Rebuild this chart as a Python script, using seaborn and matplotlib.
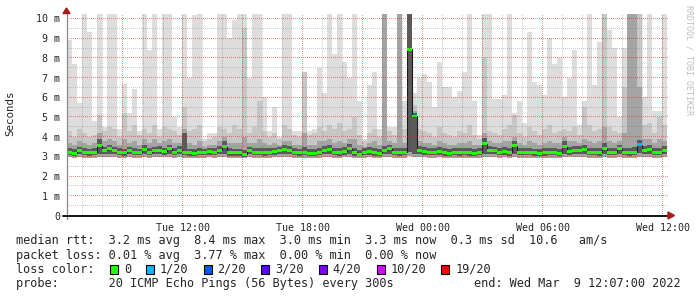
import numpy as np
import pandas as pd
import matplotlib
matplotlib.use("Agg")
import matplotlib.pyplot as plt
from matplotlib.patches import Rectangle, Polygon
from matplotlib.lines import Line2D
import seaborn as sns

# ---------------- data ----------------
start_hour = 6.2          # Tue 06:12, hours since Tue 00:00
step_hours = 0.25         # one sample every 15 min

ping_max = [8.9, 7.7, 5.7, 10.5, 9.3, 4.8, 10.5, 4.5, 10.5, 10.5,
            4.4, 6.7, 5.2, 6.4, 4.3, 10.5, 8.4, 10.5, 4.4, 10.5,
            10.5, 5.0, 4.5, 10.5, 7.0, 10.2, 10.5, 3.9, 4.2, 4.2,
            10.5, 10.5, 9.0, 9.9, 10.5, 10.5, 7.0, 10.5, 10.5, 6.0,
            4.3, 5.5, 4.0, 10.5, 10.5, 4.3, 4.3, 7.3, 4.3, 4.4,
            7.5, 6.2, 10.5, 8.2, 10.5, 7.8, 7.0, 10.5, 5.8, 3.9,
            6.6, 7.3, 4.4, 10.5, 4.5, 4.5, 10.5, 5.8, 10.5, 6.2,
            7.0, 7.2, 6.8, 5.5, 7.8, 6.5, 6.5, 6.0, 6.3, 7.3,
            10.5, 5.8, 4.1, 10.5, 10.5, 5.9, 5.9, 6.1, 10.5, 5.2,
            5.8, 4.7, 9.3, 6.8, 6.6, 6.1, 9.0, 7.7, 8.0, 6.0,
            7.0, 8.4, 4.6, 5.8, 10.5, 6.6, 8.8, 10.5, 9.4, 8.5,
            5.0, 8.5, 10.5, 10.5, 10.5, 6.0, 10.5, 5.3, 5.3, 10.5]

ping_p90 = [4.3, 4.0, 4.4, 4.2, 4.0, 4.1, 5.1, 4.3, 4.5, 4.4,
            4.0, 5.2, 4.3, 4.6, 4.1, 4.4, 4.2, 4.6, 4.0, 4.5,
            4.4, 4.3, 4.1, 5.5, 4.3, 4.4, 4.6, 3.8, 3.9, 4.0,
            4.5, 4.4, 4.2, 4.6, 4.4, 9.5, 4.2, 4.5, 5.8, 4.3,
            4.0, 4.2, 3.9, 4.6, 4.4, 4.1, 4.0, 7.3, 4.1, 4.2,
            4.5, 4.3, 4.6, 4.4, 4.7, 4.3, 4.4, 5.0, 4.1, 3.8,
            4.2, 4.4, 4.0, 10.5, 4.3, 4.1, 10.5, 4.4, 10.5, 5.6,
            4.4, 4.3, 4.2, 4.0, 4.5, 4.2, 4.1, 4.0, 4.3, 4.2,
            4.6, 4.1, 3.9, 8.0, 4.3, 4.2, 4.1, 4.4, 4.6, 5.1,
            4.2, 4.0, 4.5, 4.3, 4.1, 4.4, 4.6, 4.2, 4.3, 4.4,
            4.3, 4.5, 4.1, 5.5, 4.6, 4.3, 4.4, 10.5, 4.5, 4.3,
            4.2, 6.5, 10.5, 10.5, 10.5, 4.6, 4.7, 4.2, 5.0, 4.6]

ping_p75 = [3.7, 3.6, 3.8, 3.7, 3.6, 3.7, 4.2, 3.8, 3.9, 3.8,
            3.6, 3.9, 3.7, 3.8, 3.6, 3.9, 3.7, 3.9, 3.7, 3.8,
            3.9, 3.7, 3.7, 4.4, 3.7, 3.6, 3.8, 3.5, 3.6, 3.6,
            3.8, 4.0, 3.7, 3.7, 3.7, 4.0, 3.7, 3.7, 3.9, 3.7,
            3.6, 3.7, 3.6, 3.8, 3.8, 3.6, 3.6, 4.2, 3.6, 3.6,
            3.8, 3.8, 3.9, 3.7, 3.8, 3.7, 3.9, 3.9, 3.6, 3.5,
            3.7, 3.8, 3.6, 10.5, 3.8, 3.7, 10.5, 3.7, 10.5, 5.3,
            3.8, 3.7, 3.7, 3.6, 3.8, 3.7, 3.6, 3.6, 3.7, 3.7,
            3.8, 3.6, 3.6, 4.2, 3.8, 3.7, 3.7, 3.8, 3.8, 4.0,
            3.7, 3.6, 3.8, 3.7, 3.6, 3.7, 3.8, 3.7, 3.7, 4.0,
            3.8, 3.8, 3.7, 3.9, 3.8, 3.7, 3.8, 4.5, 3.8, 3.7,
            3.8, 4.2, 10.5, 10.5, 6.5, 3.9, 3.9, 3.7, 3.9, 3.8]

ping_p60 = [3.42, 3.38, 3.50, 3.45, 3.40, 3.45, 3.90, 3.50, 3.60, 3.50,
            3.42, 3.40, 3.50, 3.42, 3.40, 3.60, 3.45, 3.50, 3.52, 3.45,
            3.60, 3.42, 3.55, 4.20, 3.40, 3.38, 3.45, 3.40, 3.45, 3.42,
            3.52, 3.80, 3.42, 3.40, 3.40, 3.35, 3.50, 3.45, 3.45, 3.42,
            3.42, 3.45, 3.50, 3.58, 3.55, 3.42, 3.40, 3.48, 3.38, 3.38,
            3.45, 3.52, 3.58, 3.45, 3.42, 3.48, 3.62, 3.42, 3.35, 3.42,
            3.48, 3.42, 3.38, 3.55, 3.60, 3.45, 3.42, 3.45, 10.5, 5.20,
            3.55, 3.48, 3.45, 3.45, 3.48, 3.42, 3.38, 3.45, 3.42, 3.45,
            3.42, 3.38, 3.45, 3.95, 3.52, 3.50, 3.45, 3.48, 3.42, 3.80,
            3.45, 3.45, 3.45, 3.40, 3.38, 3.42, 3.45, 3.45, 3.38, 3.80,
            3.48, 3.52, 3.52, 3.58, 3.45, 3.45, 3.42, 3.70, 3.45, 3.45,
            3.60, 3.45, 3.45, 3.50, 3.85, 3.55, 3.58, 3.45, 3.45, 3.52]

median_rtt = [3.22, 3.15, 3.28, 3.22, 3.18, 3.22, 3.55, 3.30, 3.38, 3.28,
              3.22, 3.18, 3.28, 3.20, 3.22, 3.35, 3.22, 3.28, 3.30, 3.25,
              3.38, 3.22, 3.32, 3.22, 3.20, 3.15, 3.22, 3.22, 3.25, 3.22,
              3.30, 3.48, 3.20, 3.18, 3.18, 3.10, 3.28, 3.22, 3.22, 3.20,
              3.22, 3.25, 3.30, 3.35, 3.32, 3.22, 3.20, 3.22, 3.15, 3.15,
              3.22, 3.30, 3.35, 3.22, 3.20, 3.25, 3.40, 3.20, 3.12, 3.22,
              3.25, 3.20, 3.15, 3.30, 3.38, 3.22, 3.20, 3.22, 8.45, 5.05,
              3.30, 3.25, 3.22, 3.22, 3.25, 3.20, 3.15, 3.22, 3.20, 3.22,
              3.20, 3.15, 3.22, 3.65, 3.30, 3.28, 3.22, 3.25, 3.20, 3.55,
              3.22, 3.22, 3.22, 3.18, 3.15, 3.20, 3.22, 3.22, 3.15, 3.50,
              3.25, 3.30, 3.30, 3.35, 3.22, 3.22, 3.20, 3.40, 3.22, 3.22,
              3.38, 3.22, 3.20, 3.22, 3.58, 3.32, 3.35, 3.22, 3.22, 3.30]

ping_p10 = [3.08, 3.02, 3.10, 3.06, 3.04, 3.06, 3.12, 3.10, 3.12, 3.10,
            3.06, 3.04, 3.10, 3.06, 3.06, 3.12, 3.06, 3.10, 3.12, 3.08,
            3.14, 3.06, 3.12, 3.06, 3.04, 3.02, 3.06, 3.06, 3.08, 3.06,
            3.10, 3.14, 3.04, 3.04, 3.04, 2.98, 3.10, 3.06, 3.06, 3.04,
            3.06, 3.08, 3.12, 3.14, 3.12, 3.06, 3.04, 3.06, 3.02, 3.02,
            3.06, 3.10, 3.14, 3.06, 3.04, 3.08, 3.14, 3.04, 3.00, 3.06,
            3.08, 3.04, 3.02, 3.12, 3.14, 3.06, 3.04, 3.06, 3.20, 3.12,
            3.12, 3.08, 3.06, 3.06, 3.08, 3.04, 3.02, 3.06, 3.04, 3.06,
            3.04, 3.02, 3.06, 3.14, 3.12, 3.10, 3.06, 3.08, 3.04, 3.10,
            3.06, 3.06, 3.06, 3.04, 3.02, 3.04, 3.06, 3.06, 3.02, 3.12,
            3.08, 3.12, 3.12, 3.14, 3.06, 3.06, 3.04, 3.14, 3.06, 3.06,
            3.14, 3.06, 3.04, 3.06, 3.16, 3.12, 3.14, 3.06, 3.06, 3.10]

ping_min = [2.95, 2.92, 2.96, 2.94, 2.93, 2.94, 2.97, 2.95, 2.96, 2.95,
            2.94, 2.93, 2.95, 2.94, 2.94, 2.96, 2.94, 2.95, 2.96, 2.95,
            2.97, 2.94, 2.96, 2.94, 2.93, 2.92, 2.94, 2.94, 2.95, 2.94,
            2.95, 2.97, 2.93, 2.93, 2.93, 2.91, 2.95, 2.94, 2.94, 2.93,
            2.94, 2.95, 2.96, 2.97, 2.96, 2.94, 2.93, 2.94, 2.92, 2.92,
            2.94, 2.95, 2.97, 2.94, 2.93, 2.95, 2.97, 2.93, 2.91, 2.94,
            2.95, 2.93, 2.92, 2.96, 2.97, 2.94, 2.93, 2.94, 3.00, 2.96,
            2.96, 2.95, 2.94, 2.94, 2.95, 2.93, 2.92, 2.94, 2.93, 2.94,
            2.93, 2.92, 2.94, 2.97, 2.96, 2.95, 2.94, 2.95, 2.93, 2.95,
            2.94, 2.94, 2.94, 2.93, 2.92, 2.93, 2.94, 2.94, 2.92, 2.96,
            2.95, 2.96, 2.96, 2.97, 2.94, 2.94, 2.93, 2.97, 2.94, 2.94,
            2.97, 2.94, 2.93, 2.94, 2.98, 2.96, 2.97, 2.94, 2.94, 2.95]

# packets lost out of 20 per sample
loss_count = [0, 0, 0, 0, 0, 0, 0, 0, 0, 0,
              0, 0, 0, 0, 0, 0, 0, 0, 0, 0,
              0, 0, 0, 0, 0, 0, 0, 0, 0, 0,
              0, 0, 0, 0, 0, 0, 0, 0, 0, 0,
              0, 0, 0, 0, 0, 0, 0, 0, 0, 0,
              0, 0, 0, 0, 0, 0, 0, 0, 0, 0,
              0, 0, 0, 0, 0, 0, 0, 0, 0, 0,
              0, 0, 0, 0, 0, 0, 0, 0, 0, 0,
              0, 0, 0, 0, 0, 0, 0, 0, 0, 0,
              0, 0, 0, 0, 0, 0, 0, 0, 0, 0,
              0, 0, 0, 0, 0, 0, 0, 0, 0, 0,
              0, 0, 0, 0, 1, 0, 0, 0, 0, 0]

x_tick_hours = [12, 18, 24, 30, 36]
x_tick_labels = ["Tue 12:00", "Tue 18:00", "Wed 00:00", "Wed 06:00", "Wed 12:00"]
y_tick_values = [0, 1, 2, 3, 4, 5, 6, 7, 8, 9, 10]
y_tick_labels = ["0", "1 m", "2 m", "3 m", "4 m", "5 m", "6 m", "7 m", "8 m", "9 m", "10 m"]

loss_levels = [0, 1, 2, 3, 4, 10, 19]
loss_labels = ["0", "1/20", "2/20", "3/20", "4/20", "10/20", "19/20"]
loss_colors = ["#26ff00", "#00b8ff", "#0059ff", "#5e00ff", "#7e00ff", "#dd00ff", "#ff0000"]

legend_line1 = "median rtt:  3.2 ms avg  8.4 ms max  3.0 ms min  3.3 ms now  0.3 ms sd  10.6   am/s"
legend_line2 = "packet loss: 0.01 % avg  3.77 % max  0.00 % min  0.00 % now"
legend_line3 = "loss color:"
legend_line4 = "probe:       20 ICMP Echo Pings (56 Bytes) every 300s"
legend_end = "end: Wed Mar  9 12:07:00 2022"
watermark = "RRDTOOL / TOBI OETIKER"

# ---------------- figure ----------------
W, H = 697, 297
PX_PER_MS = 19.7
sns.set_style("white")
plt.rcParams["font.family"] = ["DejaVu Sans Mono", "DejaVu Sans"]

fig = plt.figure(figsize=(W / 100, H / 100), dpi=100, facecolor="white")

def fx(x):
    return x / W

def fy(y):
    return 1 - y / H

ax_left, ax_right, ax_top, ax_bottom = 67, 667, 14, 215.5
ax = fig.add_axes([fx(ax_left), fy(ax_bottom), (ax_right - ax_left) / W, (ax_bottom - ax_top) / H])
ax.set_facecolor("white")

n = len(median_rtt)
df = pd.DataFrame({
    "start": start_hour + step_hours * np.arange(n),
    "mid": start_hour + step_hours * (np.arange(n) + 0.5),
    "max": ping_max, "p90": ping_p90, "p75": ping_p75, "p60": ping_p60,
    "median": median_rtt, "p10": ping_p10, "min": ping_min, "loss": loss_count,
})
edges = np.append(df["start"].values, df["start"].values[-1] + step_hours)

def ext(col):
    v = df[col].values
    return np.append(v, v[-1])

# smoke layers
ax.fill_between(edges, ext("min"), ext("max"), step="post", color="#dddddd", lw=0, zorder=1)
ax.fill_between(edges, ext("min"), ext("p90"), step="post", color="#c6c6c6", lw=0, zorder=2)
ax.fill_between(edges, ext("min"), ext("p75"), step="post", color="#a4a4a4", lw=0, zorder=3)
ax.fill_between(edges, ext("p10"), ext("p60"), step="post", color="#5a5a5a", lw=0, zorder=4)

# thin dark median trace, then the loss-coloured median band
sns.lineplot(data=df, x="mid", y="median", ax=ax, color="#1a1a1a", lw=0.8,
             drawstyle="steps-mid", zorder=5, legend=False)
band = 0.15
color_of = dict(zip(loss_levels, loss_colors))
bar_colors = [color_of.get(int(v), "#26ff00") for v in df["loss"]]
ax.bar(df["start"], band, bottom=df["median"] - band / 2, width=step_hours, align="edge",
       color=bar_colors, lw=0, zorder=6)

x_end = start_hour + step_hours * n
y_top = (ax_bottom - ax_top) / PX_PER_MS
ax.set_xlim(start_hour, x_end)
ax.set_ylim(0, y_top)

for s in ax.spines.values():
    s.set_visible(False)

ax.set_yticks(y_tick_values)
ax.set_yticklabels(y_tick_labels)
ax.set_xticks(x_tick_hours)
ax.set_xticklabels(x_tick_labels)
ax.tick_params(axis="y", length=2.2, width=0.7, color="#ee9a9a", pad=2.6, labelsize=7.2, direction="out")
ax.tick_params(axis="x", length=2.2, width=0.7, color="#ee9a9a", pad=3.2, labelsize=7.2, direction="out")
ax.set_xlabel("")
ax.set_ylabel("")

# dotted rrdtool grid: one pixel on / one pixel off, placed through the data transform
# and laid over the plot as an unresampled pixel layer
grid_img = np.zeros((H, W, 4))
minor_rgba = (0.45, 0.45, 0.45, 0.36)
major_rgba = (0.92, 0.08, 0.08, 0.50)
x0_px, x1_px = int(round(ax_left)), int(round(ax_right)) + 1
yrows_top, yrows_bot = int(round(ax_top)) + 1, int(round(ax_bottom))

def row_of(v):
    return H - 1 - int(np.floor(ax.transData.transform((start_hour, v))[1]))

def col_of(h):
    return int(np.floor(ax.transData.transform((h, 0))[0]))

grid_ms = np.arange(0.5, 10.01, 0.5)
grid_hours = np.arange(7, 37)
for is_major in (False, True):
    rgba = major_rgba if is_major else minor_rgba
    for v in grid_ms:
        if (abs(v - round(v)) < 1e-6) == is_major:
            grid_img[row_of(v), x0_px:x1_px:2] = rgba
    for h in grid_hours:
        if (h % 3 == 0) == is_major:
            grid_img[yrows_top:yrows_bot:2, col_of(h)] = rgba
fig.figimage(grid_img, xo=0, yo=0, origin="upper", zorder=5)

# axes lines with rrdtool-style arrows (pixel geometry)
arrow_col = "#a31d1d"
fig.add_artist(Line2D([fx(66.5), fx(66.5)], [fy(219), fy(12)], color="#888888", lw=0.9, zorder=10))
fig.add_artist(Line2D([fx(63), fx(669)], [fy(215.5), fy(215.5)], color="black", lw=1.3, zorder=10))
fig.add_artist(Polygon([[fx(63), fy(13.5)], [fx(70), fy(13.5)], [fx(66.5), fy(8)]],
                       closed=True, transform=fig.transFigure, color=arrow_col, zorder=11))
fig.add_artist(Polygon([[fx(668), fy(212)], [fx(668), fy(219)], [fx(674.5), fy(215.5)]],
                       closed=True, transform=fig.transFigure, color=arrow_col, zorder=11))

# y-axis title and watermark
fig.text(fx(10.5), fy(113.5), "Seconds", rotation=90, ha="center", va="center", fontsize=7.8)
fig.text(fx(688.5), fy(5), watermark, rotation=270, ha="center", va="top", fontsize=6.0, color="#bdbdbd")

# legend block
fs = 8.6
cw = 7.2
x0 = 16
fig.text(fx(x0), fy(240.7), legend_line1, ha="left", va="center", fontsize=fs)
fig.text(fx(x0), fy(255.0), legend_line2, ha="left", va="center", fontsize=fs)
fig.text(fx(x0), fy(269.3), legend_line3, ha="left", va="center", fontsize=fs)
idx = 13
for lab, col in zip(loss_labels, loss_colors):
    bx = x0 + cw * idx + 0.5
    fig.add_artist(Rectangle((fx(bx), fy(273.5)), 8 / W, 8.5 / H, transform=fig.transFigure,
                             facecolor=col, edgecolor="black", lw=0.8))
    fig.text(fx(x0 + cw * (idx + 2)), fy(269.3), lab, ha="left", va="center", fontsize=fs)
    idx += 2 + len(lab) + 2
fig.text(fx(x0), fy(283.3), legend_line4, ha="left", va="center", fontsize=fs)
fig.text(fx(681), fy(283.3), legend_end, ha="right", va="center", fontsize=fs)

fig.savefig("out.png", dpi=100, facecolor="white")
